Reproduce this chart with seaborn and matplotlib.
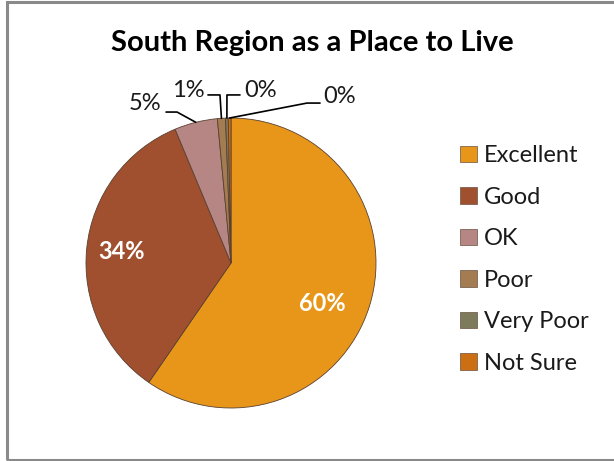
import numpy as np
import matplotlib.pyplot as plt
import seaborn as sns
from matplotlib.patches import Rectangle

sns.set_theme(style="white")
plt.rcParams["font.family"] = ["Lato", "DejaVu Sans"]

categories = ["Excellent", "Good", "OK", "Poor", "Very Poor", "Not Sure"]
values = [59.6, 34.1, 4.8, 0.9, 0.3, 0.3]
pct_labels = ["60%", "34%", "5%", "1%", "0%", "0%"]
colors = ["#E8961A", "#A0502F", "#B58683", "#A37C52", "#7E7A5C", "#CC6E12"]

# pixel layout: pie centre (231, 263) px, radius 145 px
W, H = 614, 461
cx, cy, R = 231, 263, 145

fig = plt.figure(figsize=(W / 100, H / 100), dpi=100)
ax = fig.add_axes([0, 0, 1, 1])

wedges, _ = ax.pie(values, colors=colors, startangle=90, counterclock=False,
                   radius=1, center=(0, 0), frame=True,
                   wedgeprops=dict(edgecolor="#5a4030", linewidth=0.6))
ax.set_xlim(-cx / R, (W - cx) / R)
ax.set_ylim(-(H - cy) / R, cy / R)
ax.axis("off")

# label placement (data units): inside for big slices, outside for small
inside_pos = {0: (0.63, -0.276), 1: (-0.752, 0.076)}
outside_pos = {2: (-0.593, 1.097), 3: (-0.297, 1.193), 4: (0.207, 1.193), 5: (0.752, 1.145)}
elbows = {2: (-0.372, 1.041), 3: (-0.076, 1.159), 4: (-0.028, 1.159), 5: (0.524, 1.103)}
ends = {2: (-0.448, 1.041), 3: (-0.159, 1.159), 4: (0.062, 1.159), 5: (0.614, 1.103)}

for i, w in enumerate(wedges):
    mid = np.deg2rad((w.theta1 + w.theta2) / 2)
    if i in inside_pos:
        x, y = inside_pos[i]
        ax.text(x, y, pct_labels[i], color="white", fontsize=17, fontweight="bold",
                ha="center", va="center")
    else:
        px, py = np.cos(mid), np.sin(mid)
        ex, ey = elbows[i]
        fx, fy = ends[i]
        ax.plot([px, ex, fx], [py, ey, fy], color="black", lw=1.2)
        x, y = outside_pos[i]
        ax.text(x, y, pct_labels[i], color="#1a1a1a", fontsize=17,
                ha="center", va="center")

fig.text(312 / W, 1 - 43 / H, "South Region as a Place to Live", fontsize=21,
         fontweight="bold", ha="center", va="center", color="black")

handles = [Rectangle((0, 0), 1, 1, facecolor=c, edgecolor="#6a5040", lw=0.5) for c in colors]
fig.legend(handles, categories, loc="upper left", bbox_to_anchor=(439 / W, 1 - 124 / H),
           frameon=False, fontsize=17, labelspacing=0.87, handlelength=0.7,
           handleheight=0.7, handletextpad=0.3, labelcolor="#1a1a1a")

fig.patches.append(Rectangle((6.5 / W, 1.5 / H), 1.2, 1 - 3.5 / H, transform=fig.transFigure,
                             fill=False, edgecolor="#8a8a8a", lw=2.2))

fig.savefig("out.png", dpi=100, facecolor="white")
